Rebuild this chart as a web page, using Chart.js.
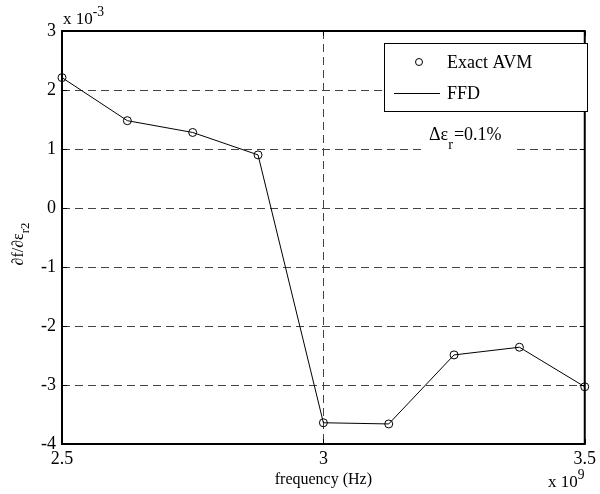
<!DOCTYPE html>
<html>
<head>
<meta charset="utf-8">
<script src="https://cdn.jsdelivr.net/npm/chart.js@4.4.1/dist/chart.umd.min.js"></script>
<style>
  html, body { margin: 0; padding: 0; background: #fff; }
  canvas { display: block; }
</style>
</head>
<body>
<canvas id="chart" width="600" height="494"></canvas>
<script>
// frequency in units of 1e9 Hz
const freq = [2.5, 2.625, 2.75, 2.875, 3.0, 3.125, 3.25, 3.375, 3.5];
// sensitivity in units of 1e-3
const exactAvm = [2.21, 1.48, 1.28, 0.90, -3.64, -3.66, -2.49, -2.36, -3.03];
const ffd = [2.21, 1.48, 1.28, 0.90, -3.64, -3.66, -2.49, -2.36, -3.03];
const xTicks = [2.5, 3, 3.5];
const yTicks = [-4, -3, -2, -1, 0, 1, 2, 3];

const serif = '"Liberation Serif", "Times New Roman", serif';

// draws text with a sub/superscript part
function drawParts(ctx, parts, x, y, size) {
    let cx = x;
    parts.forEach(p => {
        const fs = p.sub || p.sup ? size * 0.8 : size;
        ctx.font = fs + 'px ' + serif;
        const dy = p.sub ? (p.drop || size * 0.35) : (p.sup ? -size * 0.45 : 0);
        ctx.fillText(p.t, cx, y + dy);
        cx += ctx.measureText(p.t).width + (p.after || 0);
    });
    return cx - x;
}

const decorations = {
    id: 'decorations',
    afterDatasetsDraw(chart) {
        const ctx = chart.ctx;
        const a = chart.chartArea;
        const xs = chart.scales.x, ys = chart.scales.y;
        ctx.save();
        ctx.strokeStyle = '#000';
        // inner tick marks
        ctx.lineWidth = 1;
        ctx.beginPath();
        yTicks.forEach(v => {
            const py = Math.round(ys.getPixelForValue(v)) + 0.5;
            ctx.moveTo(a.left, py); ctx.lineTo(a.left + 5, py);
            ctx.moveTo(a.right, py); ctx.lineTo(a.right - 5, py);
        });
        xTicks.forEach(v => {
            const px = Math.round(xs.getPixelForValue(v)) + 0.5;
            ctx.moveTo(px, a.bottom); ctx.lineTo(px, a.bottom - 5);
            ctx.moveTo(px, a.top); ctx.lineTo(px, a.top + 5);
        });
        ctx.stroke();
        // axes box
        ctx.lineWidth = 2;
        ctx.strokeRect(a.left, a.top, a.right - a.left, a.bottom - a.top);
        ctx.restore();
    },
    afterDraw(chart) {
        const ctx = chart.ctx;
        const a = chart.chartArea;
        ctx.save();
        ctx.fillStyle = '#000';
        ctx.textBaseline = 'middle';
        ctx.textAlign = 'left';

        // exponent labels
        drawParts(ctx, [{t: 'x 10'}, {t: '-3', sup: true}], 63, 20, 17);
        drawParts(ctx, [{t: 'x 10'}, {t: '9', sup: true}], 548, 483, 17);

        // x axis title
        ctx.font = '16px ' + serif;
        ctx.textAlign = 'center';
        ctx.fillText('frequency (Hz)', (a.left + a.right) / 2, 480);

        // y axis title, rotated
        ctx.save();
        ctx.translate(19, 244);
        ctx.rotate(-Math.PI / 2);
        ctx.textAlign = 'left';
        const yParts = [{t: '\u2202f/\u2202\u03b5'}, {t: 'r2', sub: true, drop: 7}];
        let w = 0;
        yParts.forEach(p => {
            ctx.font = (p.sub ? 12.8 : 16) + 'px ' + serif;
            w += ctx.measureText(p.t).width;
        });
        drawParts(ctx, yParts, -w / 2, 0, 16);
        ctx.restore();

        // legend box
        ctx.fillStyle = '#fff';
        ctx.fillRect(384, 43, 203, 68);
        ctx.strokeStyle = '#000';
        ctx.lineWidth = 1;
        ctx.strokeRect(384.5, 43.5, 203, 68);
        ctx.beginPath();
        ctx.arc(419, 62, 3.5, 0, Math.PI * 2);
        ctx.stroke();
        ctx.beginPath();
        ctx.moveTo(394, 93.5); ctx.lineTo(440, 93.5);
        ctx.stroke();
        ctx.fillStyle = '#000';
        ctx.textAlign = 'left';
        ctx.font = '18px ' + serif;
        ctx.fillText('Exact AVM', 447, 63);
        ctx.fillText('FFD', 447, 94);

        // annotation with white background over the gridline
        ctx.fillStyle = '#fff';
        ctx.fillRect(425, 122, 92, 30);
        ctx.fillStyle = '#000';
        drawParts(ctx, [{t: '\u0394\u03b5'}, {t: 'r', sub: true, drop: 10, after: 1}, {t: '=0.1%'}], 429, 135, 18);
        ctx.restore();
    }
};

const gridColor = '#444';

new Chart(document.getElementById('chart'), {
    type: 'line',
    data: {
        datasets: [
            {
                label: 'Exact AVM',
                data: freq.map((f, i) => ({x: f, y: exactAvm[i]})),
                showLine: false,
                pointStyle: 'circle',
                pointRadius: 4,
                pointBorderWidth: 1,
                pointBorderColor: '#000',
                pointBackgroundColor: 'rgba(0,0,0,0)',
                clip: false,
                order: 0
            },
            {
                label: 'FFD',
                data: freq.map((f, i) => ({x: f, y: ffd[i]})),
                borderColor: '#000',
                borderWidth: 1,
                pointRadius: 0,
                fill: false,
                tension: 0,
                clip: false,
                order: 1
            }
        ]
    },
    options: {
        responsive: false,
        animation: false,
        devicePixelRatio: 1,
        layout: { padding: { top: 31, right: 11, left: 0, bottom: 0 } },
        plugins: {
            legend: { display: false },
            tooltip: { enabled: false }
        },
        scales: {
            x: {
                type: 'linear',
                min: 2.5,
                max: 3.5,
                afterBuildTicks: scale => { scale.ticks = xTicks.map(v => ({value: v})); },
                afterFit: scale => { scale.height = 50; },
                ticks: {
                    color: '#000',
                    font: { family: serif, size: 18 },
                    padding: 4,
                    maxRotation: 0,
                    callback: v => String(v)
                },
                grid: {
                    drawTicks: false,
                    lineWidth: 1,
                    color: c => (c.tick && c.tick.value === 3) ? gridColor : 'rgba(0,0,0,0)'
                },
                border: { display: false, dash: [8, 5] }
            },
            y: {
                type: 'linear',
                min: -4,
                max: 3,
                afterBuildTicks: scale => { scale.ticks = yTicks.map(v => ({value: v})); },
                afterFit: scale => { scale.width = 62; },
                ticks: {
                    color: '#000',
                    font: { family: serif, size: 18 },
                    padding: 6,
                    callback: v => String(v)
                },
                grid: {
                    drawTicks: false,
                    lineWidth: 1,
                    color: c => (c.tick && c.tick.value > -4 && c.tick.value < 3) ? gridColor : 'rgba(0,0,0,0)'
                },
                border: { display: false, dash: [8, 5] }
            }
        }
    },
    plugins: [decorations]
});
</script>
</body>
</html>
